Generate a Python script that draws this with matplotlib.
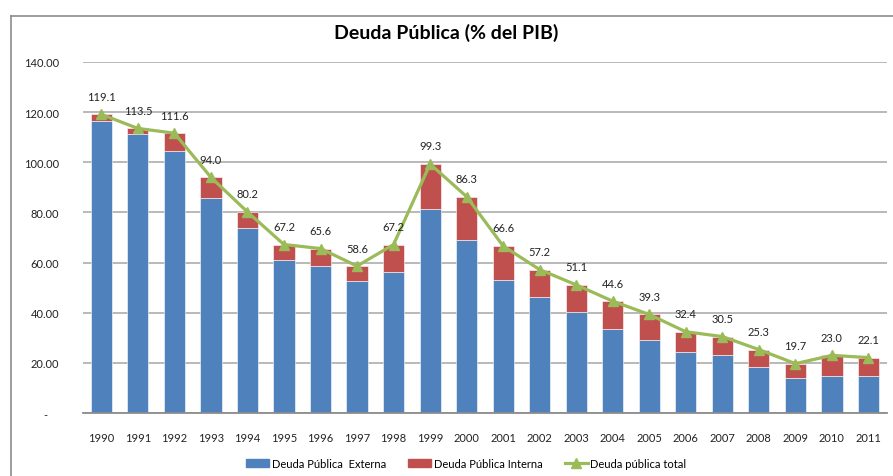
import matplotlib
matplotlib.use("Agg")
import matplotlib.pyplot as plt
from matplotlib.lines import Line2D
from matplotlib.patches import Patch
import numpy as np

plt.rcParams['font.family'] = ['Lato', 'DejaVu Sans']

years = [str(y) for y in range(1990, 2012)]
externa = [116.5, 111.2, 104.6, 85.9, 73.8, 60.9, 58.8, 52.8, 56.4, 81.4, 68.9,
           53.2, 46.1, 40.4, 33.7, 29.2, 24.4, 23.1, 18.5, 14.0, 14.6, 14.9]
total = [119.1, 113.5, 111.6, 94.0, 80.2, 67.2, 65.6, 58.6, 67.2, 99.3, 86.3,
         66.6, 57.2, 51.1, 44.6, 39.3, 32.4, 30.5, 25.3, 19.7, 23.0, 22.1]
interna = [t - e for t, e in zip(total, externa)]
yticks = [0, 20, 40, 60, 80, 100, 120, 140]
ytick_labels = ['-    ', '20.00', '40.00', '60.00', '80.00', '100.00', '120.00', '140.00']

blue, red, green = '#4F81BD', '#C0504D', '#9BBB59'

fig = plt.figure(figsize=(8.93, 4.77), dpi=100)
ax = fig.add_axes([0.093, 0.132, 0.900, 0.736])

x = np.arange(len(years))
ax.bar(x, externa, width=0.58, color=blue, edgecolor='white', linewidth=0.4, zorder=2)
ax.bar(x, interna, width=0.58, bottom=externa, color=red, edgecolor='white', linewidth=0.4, zorder=2)
ax.plot(x, total, color=green, lw=2.3, marker='^', ms=7, zorder=3)

for xi, t in zip(x, total):
    ax.annotate(f'{t:.1f}', (xi, t), xytext=(0, 13), textcoords='offset points',
                ha='center', va='center', fontsize=8, color='#222222')

ax.set_xlim(-0.5, len(years) - 0.5)
ax.set_ylim(0, 140)
ax.set_xticks(x, years)
ax.set_yticks(yticks, ytick_labels)
ax.tick_params(length=0, labelsize=8, colors='#222222')
ax.tick_params(axis='x', pad=14)
ax.tick_params(axis='y', pad=17)
ax.grid(axis='y', color='#b3b3b3', lw=1.3, zorder=0)
for s in ['top', 'right', 'left']:
    ax.spines[s].set_visible(False)
ax.spines['bottom'].set_color('#8c8c8c')
ax.spines['bottom'].set_linewidth(1.3)

fig.text(0.5, 0.93, 'Deuda Pública (% del PIB)', ha='center', va='center',
         fontsize=14, fontweight='bold')

handles = [Patch(color=blue, label='Deuda Pública  Externa'),
           Patch(color=red, label='Deuda Pública Interna'),
           Line2D([0], [0], color=green, lw=2.3, marker='^', ms=7, label='Deuda pública total')]
fig.legend(handles=handles, loc='center', bbox_to_anchor=(0.522, 0.027), ncol=3,
           frameon=False, fontsize=8, handlelength=2.1, handleheight=0.8,
           columnspacing=2.0, handletextpad=0.2)

# outer chart frame
fig.add_artist(Line2D([11 / 893, 11 / 893], [0, 1 - 17 / 477], color='#8c8c8c', lw=1.2))
fig.add_artist(Line2D([11 / 893, 1], [1 - 17 / 477, 1 - 17 / 477], color='#8c8c8c', lw=1.2))

fig.savefig('out.png', dpi=100)
